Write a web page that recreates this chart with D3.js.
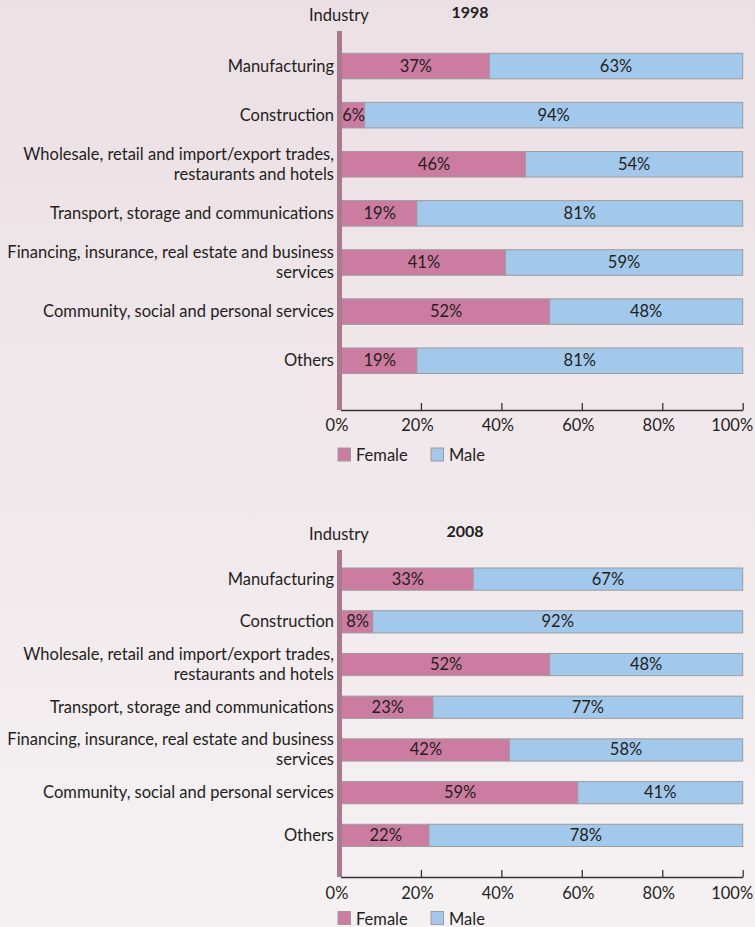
<!DOCTYPE html>
<html>
<head>
<meta charset="utf-8">
<script src="https://cdn.jsdelivr.net/npm/d3@7"></script>
<style>
  html, body { margin: 0; padding: 0; }
  body { width: 755px; height: 927px; overflow: hidden; }
  svg { display: block; }
  text { font-family: Lato, "Noto Sans", sans-serif; fill: #231f20; }
</style>
</head>
<body>
<div id="main"></div>
<script>
const categories = [
    ['Manufacturing'],
    ['Construction'],
    ['Wholesale, retail and import/export trades,', 'restaurants and hotels'],
    ['Transport, storage and communications'],
    ['Financing, insurance, real estate and business', 'services'],
    ['Community, social and personal services'],
    ['Others']
];
const female1998 = [37, 6, 46, 19, 41, 52, 19];
const male1998 = [63, 94, 54, 81, 59, 48, 81];
const female2008 = [33, 8, 52, 23, 42, 59, 22];
const male2008 = [67, 92, 48, 77, 58, 41, 78];
const xTicks = [0, 20, 40, 60, 80, 100];
const seriesNames = ['Female', 'Male'];

const WIDTH = 755;
const HEIGHT = 927;
const FEMALECOLOR = '#cb7ca0';
const MALECOLOR = '#a2c8eb';
const BARSTROKE = '#9c9c9c';
const SPINECOLOR = '#a8798f';
const FONTSIZE = '16.5px';

const svg = d3.select('#main').append('svg')
    .attr('width', WIDTH)
    .attr('height', HEIGHT);

const grad = svg.append('defs').append('linearGradient')
    .attr('id', 'bg')
    .attr('x1', 0).attr('y1', 0).attr('x2', 0).attr('y2', 1);
grad.append('stop').attr('offset', '0%').attr('stop-color', '#ebe0e4');
grad.append('stop').attr('offset', '100%').attr('stop-color', '#f5f1f2');
svg.append('rect').attr('width', WIDTH).attr('height', HEIGHT).attr('fill', 'url(#bg)');

const scaleX = d3.scaleLinear().domain([0, 100]).range([340.5, 742.7]);

const stackedChart = (year, female, male, props) => {
    const {top, bandTop, bandBottom, padding, spineTop, axisY, tickGap, legendGap, yearX} = props;
    const g = svg.append('g').attr('transform', `translate(0, ${top})`);
    const rows = categories.map((c, i) => ({label: c, female: female[i], male: male[i], key: i}));
    const scaleY = d3.scaleBand()
        .domain(rows.map((d) => d.key))
        .range([bandTop, bandBottom])
        .paddingInner(padding)
        .paddingOuter(0);

    g.append('text')
        .attr('x', 309)
        .attr('y', 21)
        .style('font-size', FONTSIZE)
        .text('Industry');
    g.append('text')
        .attr('x', yearX)
        .attr('y', 18)
        .attr('text-anchor', 'middle')
        .style('font-size', '16px')
        .style('font-weight', 'bold')
        .text(year);

    const row = g.selectAll('g.row').data(rows).enter().append('g').attr('class', 'row');
    row.append('rect')
        .attr('x', scaleX(0))
        .attr('y', (d) => scaleY(d.key))
        .attr('width', (d) => scaleX(d.female) - scaleX(0))
        .attr('height', scaleY.bandwidth())
        .attr('fill', FEMALECOLOR)
        .attr('stroke', BARSTROKE)
        .attr('stroke-width', 1);
    row.append('rect')
        .attr('x', (d) => scaleX(d.female))
        .attr('y', (d) => scaleY(d.key))
        .attr('width', (d) => scaleX(d.female + d.male) - scaleX(d.female))
        .attr('height', scaleY.bandwidth())
        .attr('fill', MALECOLOR)
        .attr('stroke', BARSTROKE)
        .attr('stroke-width', 1);
    row.append('text')
        .attr('x', (d) => (scaleX(0) + scaleX(d.female)) / 2 + 1)
        .attr('y', (d) => scaleY(d.key) + scaleY.bandwidth() / 2 + 5.5)
        .attr('text-anchor', 'middle')
        .style('font-size', FONTSIZE)
        .text((d) => `${d.female}%`);
    row.append('text')
        .attr('x', (d) => (scaleX(d.female) + scaleX(d.female + d.male)) / 2)
        .attr('y', (d) => scaleY(d.key) + scaleY.bandwidth() / 2 + 5.5)
        .attr('text-anchor', 'middle')
        .style('font-size', FONTSIZE)
        .text((d) => `${d.male}%`);

    // category labels, one or two lines
    row.each((d, i, n) => {
        const mid = scaleY(d.key) + scaleY.bandwidth() / 2;
        const first = d.label.length === 1 ? mid + 5.5 : mid - 4.5;
        d.label.forEach((line, j) => {
            d3.select(n[i]).append('text')
                .attr('x', 334)
                .attr('y', first + j * 20)
                .attr('text-anchor', 'end')
                .style('font-size', FONTSIZE)
                .text(line);
        });
    });

    // x axis
    const axisX = d3.axisBottom(scaleX)
        .tickValues(xTicks)
        .tickSize(-7)
        .tickSizeOuter(0)
        .tickPadding(0)
        .tickFormat((d) => `${d}%`);
    const ax = g.append('g')
        .attr('transform', `translate(0, ${axisY})`)
        .call(axisX);
    ax.select('.domain').attr('stroke', '#333').attr('stroke-width', 1.5);
    ax.selectAll('.tick line').attr('stroke', '#333').attr('stroke-width', 1.3);
    ax.selectAll('.tick text')
        .attr('fill', '#231f20')
        .attr('y', tickGap)
        .attr('dy', 0)
        .attr('dx', (d) => d === 100 ? -11 : -4)
        .style('font-family', 'Lato, "Noto Sans", sans-serif')
        .style('font-size', FONTSIZE);

    // left spine
    g.append('rect')
        .attr('x', 337)
        .attr('y', spineTop)
        .attr('width', 5)
        .attr('height', axisY - spineTop)
        .attr('fill', SPINECOLOR);

    // legend
    const legendY = axisY + legendGap;
    const legendX = [338, 431];
    const lg = g.append('g').selectAll('g').data(seriesNames).enter().append('g');
    lg.append('rect')
        .attr('x', (d, i) => legendX[i])
        .attr('y', legendY)
        .attr('width', 12.5)
        .attr('height', 13)
        .attr('fill', (d, i) => i === 0 ? FEMALECOLOR : MALECOLOR)
        .attr('stroke', BARSTROKE)
        .attr('stroke-width', 1);
    lg.append('text')
        .attr('x', (d, i) => legendX[i] + 18)
        .attr('y', legendY + 13)
        .style('font-size', FONTSIZE)
        .text((d) => d);
};

stackedChart('1998', female1998, male1998, {
    top: 0, bandTop: 53.3, bandBottom: 373.5, padding: 0.48, spineTop: 31,
    axisY: 410, tickGap: 21, legendGap: 38, yearX: 470
});
stackedChart('2008', female2008, male2008, {
    top: 519, bandTop: 49, bandBottom: 327.5, padding: 0.48, spineTop: 31,
    axisY: 358, tickGap: 22, legendGap: 34.5, yearX: 465
});
</script>
</body>
</html>
